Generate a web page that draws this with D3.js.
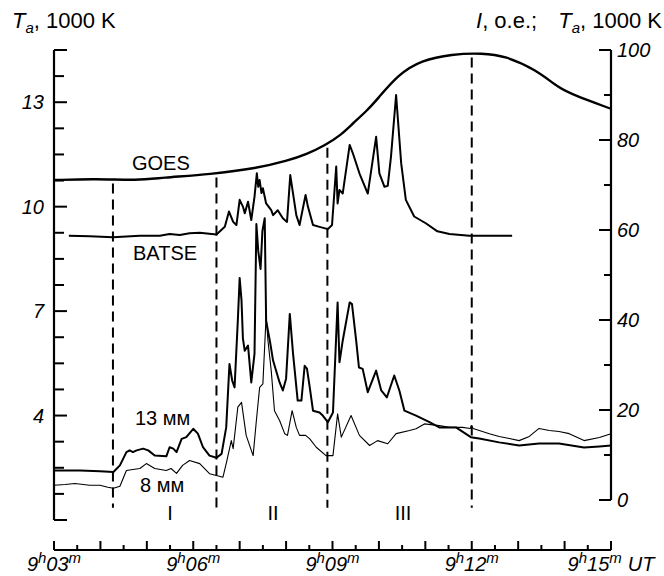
<!DOCTYPE html>
<html>
<head>
<meta charset="utf-8">
<script src="https://cdn.jsdelivr.net/npm/d3@7"></script>
<style>
  body { margin: 0; background: #fff; }
  svg { font-family: "Liberation Sans", Arial, sans-serif; }
</style>
</head>
<body>
<svg id="chart" width="664" height="576"></svg>
<script>
// time in minutes after 9h00m UT
const goes = [ // I, o.e. (right axis)
  [3.00, 71.1], [3.90, 71.4], [4.81, 71.0], [5.30, 71.6], [6.38, 72.4], [7.37, 73.7],
  [8.03, 75.4], [8.44, 76.8], [8.85, 78.9], [9.17, 81.0], [9.43, 83.6], [9.75, 86.6],
  [9.96, 89.0], [10.42, 94.6], [10.91, 97.7], [11.57, 99.1], [12.23, 99.3], [12.72, 98.7],
  [13.39, 95.6], [13.88, 91.5], [14.20, 90.0], [14.98, 87.0]
];

const batse = [ // I, o.e. (right axis)
  [3.32, 58.7], [3.77, 58.6], [4.27, 58.4], [4.85, 58.7], [5.28, 58.7], [5.49, 59.1],
  [5.71, 58.9], [5.92, 59.3], [6.14, 59.4], [6.50, 59.0], [6.68, 60.7], [6.77, 64.1],
  [6.86, 61.8], [6.93, 61.1], [7.00, 66.7], [7.07, 65.2], [7.11, 63.7], [7.18, 66.3],
  [7.25, 62.2], [7.32, 67.4], [7.37, 72.6], [7.40, 69.6], [7.43, 71.1], [7.47, 68.2],
  [7.50, 69.3], [7.57, 65.9], [7.68, 64.4], [7.72, 63.3], [7.82, 64.4], [7.93, 62.6],
  [8.02, 61.8], [8.09, 72.2], [8.15, 68.1], [8.22, 63.3], [8.29, 61.1], [8.42, 67.8],
  [8.47, 65.2], [8.58, 61.1], [8.72, 60.7], [8.90, 60.2], [8.99, 61.1], [9.08, 74.1],
  [9.11, 65.9], [9.15, 68.9], [9.22, 68.1], [9.37, 78.9], [9.44, 77.0], [9.58, 72.6],
  [9.76, 68.1], [9.94, 80.7], [10.01, 72.6], [10.12, 69.6], [10.19, 69.8], [10.26, 76.3],
  [10.37, 90.0], [10.48, 74.8], [10.58, 66.7], [10.76, 63.0], [11.01, 61.5], [11.26, 59.7],
  [11.52, 59.1], [11.95, 58.7], [12.38, 58.7], [12.87, 58.7]
];

const mm13 = [ // Ta, 1000 K (left axis)
  [3.00, 2.42], [3.56, 2.42], [3.99, 2.40], [4.28, 2.38], [4.42, 2.57], [4.56, 2.95],
  [4.63, 3.00], [4.70, 2.95], [4.78, 3.00], [4.92, 3.05], [5.03, 3.00], [5.17, 2.85],
  [5.42, 2.83], [5.49, 3.09], [5.57, 3.05], [5.64, 2.95], [5.75, 3.33], [5.85, 3.38],
  [6.00, 3.62], [6.10, 3.48], [6.21, 3.09], [6.35, 2.85], [6.50, 2.79], [6.61, 2.90],
  [6.71, 3.66], [6.78, 5.48], [6.84, 5.00], [6.89, 4.81], [6.96, 6.72], [7.00, 7.95],
  [7.04, 7.30], [7.07, 6.21], [7.11, 5.86], [7.18, 6.01], [7.25, 4.95], [7.32, 5.78],
  [7.36, 9.50], [7.40, 8.73], [7.45, 8.21], [7.49, 9.30], [7.54, 9.67], [7.57, 6.72],
  [7.65, 6.15], [7.72, 5.58], [7.86, 4.95], [7.93, 4.72], [8.00, 5.06], [8.08, 6.92],
  [8.15, 5.78], [8.25, 4.43], [8.33, 4.43], [8.40, 5.43], [8.45, 5.35], [8.51, 4.81],
  [8.58, 4.14], [8.72, 4.09], [8.79, 4.00], [8.90, 3.81], [9.01, 4.09], [9.11, 7.25],
  [9.15, 5.53], [9.22, 6.15], [9.37, 7.25], [9.42, 7.20], [9.51, 6.15], [9.57, 5.38],
  [9.65, 5.34], [9.76, 4.67], [9.94, 5.29], [10.05, 4.72], [10.17, 4.52], [10.33, 5.15],
  [10.44, 4.72], [10.55, 4.14], [10.80, 4.00], [11.09, 3.81], [11.30, 3.66], [11.66, 3.66],
  [11.98, 3.38], [12.16, 3.34], [12.59, 3.23], [13.02, 3.14], [13.45, 3.20], [13.88, 3.20],
  [14.42, 3.08], [14.75, 3.11], [15.00, 3.14]
];

const mm8 = [ // Ta, 1000 K (left axis)
  [3.00, 2.00], [3.24, 2.02], [3.45, 2.05], [3.77, 2.00], [3.99, 2.00], [4.16, 1.94],
  [4.28, 1.91], [4.42, 1.97], [4.56, 2.42], [4.70, 2.45], [4.85, 2.48], [4.99, 2.62],
  [5.17, 2.48], [5.42, 2.42], [5.52, 2.48], [5.64, 2.34], [5.77, 2.57], [5.92, 2.71],
  [6.14, 2.62], [6.35, 2.33], [6.50, 2.28], [6.64, 2.23], [6.71, 2.62], [6.82, 3.28],
  [6.86, 3.05], [6.96, 4.24], [7.04, 4.38], [7.14, 3.43], [7.29, 2.85], [7.36, 3.86],
  [7.43, 4.81], [7.50, 4.91], [7.57, 6.87], [7.61, 6.15], [7.68, 5.29], [7.75, 4.14],
  [7.86, 3.86], [7.97, 3.48], [8.03, 3.43], [8.13, 4.14], [8.22, 3.66], [8.29, 3.43],
  [8.42, 3.43], [8.51, 3.33], [8.65, 3.09], [8.86, 2.85], [9.01, 2.85], [9.11, 4.05],
  [9.19, 3.38], [9.40, 4.00], [9.58, 3.43], [9.80, 3.14], [9.97, 3.28], [10.19, 3.19],
  [10.37, 3.48], [10.66, 3.57], [10.80, 3.62], [10.98, 3.76], [11.30, 3.71], [11.52, 3.66],
  [11.80, 3.66], [11.97, 3.63], [11.99, 3.71], [12.03, 3.63], [12.38, 3.48], [12.59, 3.40],
  [12.81, 3.34], [13.02, 3.28], [13.24, 3.40], [13.45, 3.63], [13.67, 3.57], [13.88, 3.54],
  [14.10, 3.48], [14.42, 3.28], [14.75, 3.37], [15.00, 3.48]
];

const phaseBounds = [4.27, 6.50, 8.89, 12.0];     // dashed lines
const phases = [["I", 5.50], ["II", 7.72], ["III", 10.52]];
const timeTicks = [3, 6, 9, 12, 15];
const leftLabels = [4, 7, 10, 13];
const rightLabels = [0, 20, 40, 60, 80, 100];

const svg = d3.select('#chart');

const x = d3.scaleLinear().domain([3, 15]).range([54, 611]);
const yL = d3.scaleLinear().domain([1, 14.5]).range([520, 50]);
const yR = d3.scaleLinear().domain([0, 100]).range([500, 50]);
const axisY = 550;

// left axis
const gl = svg.append("g").attr("transform", `translate(${x(3)},0)`)
gl.append("line").attr("y1", yL(1)).attr("y2", yL(14.5)).attr("stroke", "#000").attr("stroke-width", 2.2)
gl.selectAll(".t").data(d3.range(1, 14.51, 0.75)).join("line")
    .attr("x1", 0).attr("x2", d => leftLabels.includes(d) || d == 1 || d == 14.5 ? 13 : 10)
    .attr("y1", d => yL(d)).attr("y2", d => yL(d))
    .attr("stroke", "#000").attr("stroke-width", 2)
gl.selectAll("text").data(leftLabels).join("text")
    .attr("x", -10).attr("y", d => yL(d)).attr("dy", "0.36em")
    .attr("text-anchor", "end").attr("font-style", "italic").attr("font-size", 20)
    .text(d => d)

// right axis
const gr = svg.append("g").attr("transform", `translate(${x(15)},0)`)
gr.append("line").attr("y1", yR(0)).attr("y2", yR(100)).attr("stroke", "#000").attr("stroke-width", 2.2)
gr.selectAll(".t").data(d3.range(0, 101, 10)).join("line")
    .attr("x1", 0).attr("x2", d => d % 20 == 0 ? -12 : -7)
    .attr("y1", d => yR(d)).attr("y2", d => yR(d))
    .attr("stroke", "#000").attr("stroke-width", 2)
gr.selectAll("text").data(rightLabels).join("text")
    .attr("x", 6).attr("y", d => yR(d)).attr("dy", "0.36em")
    .attr("font-style", "italic").attr("font-size", 20)
    .text(d => d)

// time axis
const gb = svg.append("g").attr("transform", `translate(0,${axisY})`)
gb.append("line").attr("x1", x(3)).attr("x2", x(15)).attr("stroke", "#000").attr("stroke-width", 2.2)
gb.selectAll(".t").data(d3.range(3, 15.01, 0.5)).join("line")
    .attr("x1", d => x(d)).attr("x2", d => x(d))
    .attr("y1", 0).attr("y2", d => Number.isInteger(d) ? -9 : -5)
    .attr("stroke", "#000").attr("stroke-width", 2)
const tl = gb.selectAll("text").data(timeTicks).join("text")
    .attr("x", d => x(d)).attr("y", 21)
    .attr("text-anchor", "middle").attr("font-style", "italic").attr("font-size", 20)
tl.append("tspan").text("9")
tl.append("tspan").attr("font-size", 15).attr("dy", -8).text("h")
tl.append("tspan").attr("dy", 8).text(d => String(d).padStart(2, "0"))
tl.append("tspan").attr("font-size", 15).attr("dy", -8).text("m")
tl.filter(d => d == 15).append("tspan").attr("dy", 8).attr("dx", 6).text("UT")

// dashed phase boundaries, starting just under GOES curve
const goesAt = t => {
    const i = d3.bisector(d => d[0]).left(goes, t)
    const a = goes[i - 1], b = goes[i]
    return a[1] + (b[1] - a[1]) * (t - a[0]) / (b[0] - a[0])
}
svg.append("g").selectAll("line").data(phaseBounds).join("line")
    .attr("x1", d => x(d)).attr("x2", d => x(d))
    .attr("y1", d => yR(goesAt(d)) + 4).attr("y2", yL(1.35))
    .attr("stroke", "#000").attr("stroke-width", 2).attr("stroke-dasharray", "10,6")

// curves
const lineR = d3.line().x(d => x(d[0])).y(d => yR(d[1]))
const lineL = d3.line().x(d => x(d[0])).y(d => yL(d[1]))

svg.append("path").datum(goes)
    .attr("d", lineR.curve(d3.curveBasis))
    .attr("fill", "none").attr("stroke", "#000").attr("stroke-width", 2.4)
lineR.curve(d3.curveLinear)
svg.append("path").datum(batse).attr("d", lineR)
    .attr("fill", "none").attr("stroke", "#000").attr("stroke-width", 2).attr("stroke-linejoin", "round")
svg.append("path").datum(mm13).attr("d", lineL)
    .attr("fill", "none").attr("stroke", "#000").attr("stroke-width", 2).attr("stroke-linejoin", "round")
svg.append("path").datum(mm8).attr("d", lineL)
    .attr("fill", "none").attr("stroke", "#000").attr("stroke-width", 1.1).attr("stroke-linejoin", "round")

// curve names
const names = [["GOES", 132, 170], ["BATSE", 133, 260], ["13 мм", 135, 425], ["8 мм", 140, 492]]
svg.append("g").selectAll("text").data(names).join("text")
    .attr("x", d => d[1]).attr("y", d => d[2]).attr("font-size", 20)
    .text(d => d[0])

// phase numbers
svg.append("g").selectAll("text").data(phases).join("text")
    .attr("x", d => x(d[1])).attr("y", 520).attr("text-anchor", "middle").attr("font-size", 20)
    .text(d => d[0])

// axis titles
const t1 = svg.append("text").attr("x", 12).attr("y", 28).attr("font-size", 22)
t1.append("tspan").attr("font-style", "italic").text("T")
t1.append("tspan").attr("font-style", "italic").attr("font-size", 15).attr("dy", 5).text("a")
t1.append("tspan").attr("dy", -5).text(", 1000 K")

const t2 = svg.append("text").attr("x", 476).attr("y", 28).attr("font-size", 22)
t2.append("tspan").attr("font-style", "italic").text("I")
t2.append("tspan").text(", o.e.;")
const t3 = svg.append("text").attr("x", 662).attr("y", 28).attr("font-size", 22).attr("text-anchor", "end")
t3.append("tspan").attr("font-style", "italic").text("T")
t3.append("tspan").attr("font-style", "italic").attr("font-size", 15).attr("dy", 5).text("a")
t3.append("tspan").attr("dy", -5).text(", 1000 K")
</script>
</body>
</html>
